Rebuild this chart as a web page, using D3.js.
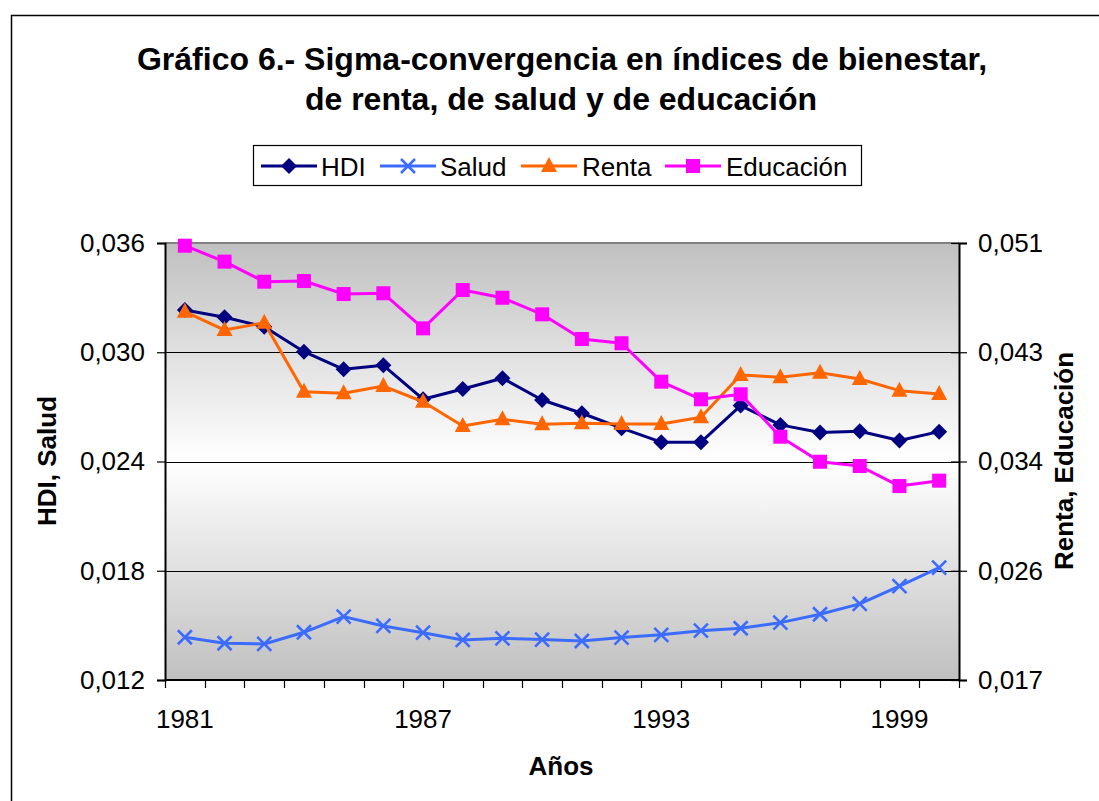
<!DOCTYPE html>
<html>
<head>
<meta charset="utf-8">
<script src="https://cdn.jsdelivr.net/npm/d3@7"></script>
<style>
  html, body { margin: 0; padding: 0; background: #ffffff; overflow: hidden; }
  svg { display: block; }
  text { font-family: "Liberation Sans", Arial, sans-serif; }
</style>
</head>
<body>
<svg id="chart" width="1099" height="801"></svg>
<script>
// ---------- data ----------
const years = [1981,1982,1983,1984,1985,1986,1987,1988,1989,1990,1991,1992,1993,1994,1995,1996,1997,1998,1999,2000];
const hdi = [0.03232,0.03192,0.03140,0.03003,0.02906,0.02928,0.02742,0.02798,0.02857,0.02738,0.02665,0.02583,0.02506,0.02506,0.02707,0.02601,0.02559,0.02566,0.02515,0.02564];
const salud = [0.01435,0.01402,0.01398,0.01462,0.01548,0.01497,0.01460,0.01420,0.01429,0.01422,0.01414,0.01433,0.01448,0.01471,0.01484,0.01515,0.01561,0.01618,0.01716,0.01817];
const renta = [0.04566,0.04423,0.04480,0.03943,0.03931,0.03987,0.03865,0.03676,0.03728,0.03689,0.03697,0.03692,0.03692,0.03744,0.04073,0.04055,0.04091,0.04042,0.03951,0.03925];
const educacion = [0.05079,0.04955,0.04799,0.04804,0.04703,0.04709,0.04436,0.04734,0.04674,0.04545,0.04353,0.04320,0.04021,0.03884,0.03923,0.03593,0.03398,0.03365,0.03209,0.03251];

const leftTicks = [0.012,0.018,0.024,0.030,0.036];
const leftTickLabels = ["0,012","0,018","0,024","0,030","0,036"];
const rightTicks = [0.017,0.0255,0.034,0.0425,0.051];
const rightTickLabels = ["0,017","0,026","0,034","0,043","0,051"];
const xTickLabelYears = [1981,1987,1993,1999];

const seriesNames = ["HDI","Salud","Renta","Educación"];
const titleLines = ["Gráfico 6.- Sigma-convergencia en índices de bienestar,","de renta, de salud y de educación"];

// ---------- layout ----------
const svg = d3.select("#chart");
const plot = {left:165, right:959, top:243, bottom:680};
const tickFont = 26;

const x = d3.scaleBand().domain(years).range([plot.left, plot.right]).padding(0);
const cx = d => x(d) + x.bandwidth()/2;
const yL = d3.scaleLinear().domain([0.012,0.036]).range([plot.bottom, plot.top]);
const yR = d3.scaleLinear().domain([0.017,0.051]).range([plot.bottom, plot.top]);

// chart border
svg.append("rect").attr("x",11.5).attr("y",15.5).attr("width",1200).attr("height",900)
  .attr("fill","#fff").attr("stroke","#000").attr("stroke-width",1.5);

// title
svg.append("text").attr("x",562).attr("y",70).attr("text-anchor","middle")
  .attr("font-size",32).attr("font-weight","bold").text(titleLines[0]);
svg.append("text").attr("x",561).attr("y",110).attr("text-anchor","middle")
  .attr("font-size",32).attr("font-weight","bold").text(titleLines[1]);

// gradient background
const defs = svg.append("defs");
const grad = defs.append("linearGradient").attr("id","bg").attr("x1",0).attr("y1",0).attr("x2",0).attr("y2",1);
grad.append("stop").attr("offset","0%").attr("stop-color","#c0c0c0");
grad.append("stop").attr("offset","50%").attr("stop-color","#ffffff");
grad.append("stop").attr("offset","100%").attr("stop-color","#c0c0c0");
svg.append("rect").attr("x",plot.left).attr("y",plot.top)
  .attr("width",plot.right-plot.left).attr("height",plot.bottom-plot.top).attr("fill","url(#bg)");

// gridlines
svg.append("g").selectAll("line").data(leftTicks.slice(1,4)).join("line")
  .attr("x1",plot.left).attr("x2",plot.right)
  .attr("y1",d=>Math.round(yL(d))+0.5).attr("y2",d=>Math.round(yL(d))+0.5)
  .attr("stroke","#000").attr("stroke-width",1);
svg.append("line").attr("x1",plot.left).attr("x2",plot.right)
  .attr("y1",yL(0.036)).attr("y2",yL(0.036)).attr("stroke","#808080").attr("stroke-width",2);

// left axis
const axL = svg.append("g").attr("transform",`translate(${plot.left},0)`)
  .call(d3.axisLeft(yL).tickValues(leftTicks).tickSize(8).tickPadding(12)
    .tickFormat((d,i)=>leftTickLabels[i]));
axL.select(".domain").attr("stroke","#000").attr("stroke-width",2);
axL.selectAll(".tick line").attr("stroke","#000").attr("stroke-width",1.2);
axL.selectAll(".tick text").attr("font-size",tickFont).attr("fill","#000")
  .attr("font-family","'Liberation Sans', Arial, sans-serif");

// right axis
const axR = svg.append("g").attr("transform",`translate(${plot.right},0)`)
  .call(d3.axisRight(yR).tickValues(rightTicks).tickSize(8).tickPadding(11)
    .tickFormat((d,i)=>rightTickLabels[i]));
axR.select(".domain").attr("stroke","#000").attr("stroke-width",2);
axR.selectAll(".tick line").attr("x1",-8).attr("stroke","#000").attr("stroke-width",1.2);
axR.selectAll(".tick text").attr("font-size",tickFont).attr("fill","#000")
  .attr("font-family","'Liberation Sans', Arial, sans-serif");

// bottom axis (category boundaries as ticks)
const boundaries = years.map(d => x(d)).concat([x(years[years.length-1]) + x.bandwidth()]);
svg.append("line").attr("x1",plot.left).attr("x2",plot.right).attr("y1",plot.bottom).attr("y2",plot.bottom)
  .attr("stroke","#000").attr("stroke-width",2);
svg.append("g").selectAll("line").data(boundaries).join("line")
  .attr("x1",d=>Math.round(d)+0.5).attr("x2",d=>Math.round(d)+0.5)
  .attr("y1",plot.bottom).attr("y2",plot.bottom+8).attr("stroke","#000").attr("stroke-width",1.2);
svg.append("g").selectAll("text").data(xTickLabelYears).join("text")
  .attr("x",d=>cx(d)).attr("y",plot.bottom+48).attr("text-anchor","middle")
  .attr("font-size",tickFont).text(d=>d);

// axis titles
svg.append("text").attr("x",561).attr("y",775).attr("text-anchor","middle")
  .attr("font-size",26).attr("font-weight","bold").text("Años");
svg.append("text").attr("transform","translate(56,461) rotate(-90)").attr("text-anchor","middle")
  .attr("font-size",26).attr("font-weight","bold").text("HDI, Salud");
svg.append("text").attr("transform","translate(1073,461) rotate(-90)").attr("text-anchor","middle")
  .attr("font-size",26).attr("font-weight","bold").text("Renta, Educación");

// ---------- series ----------
const series = [
  {name:seriesNames[0], values:hdi, y:yL, color:"#000080", marker:"diamond"},
  {name:seriesNames[1], values:salud, y:yL, color:"#3c6cff", marker:"x"},
  {name:seriesNames[2], values:renta, y:yR, color:"#ff6600", marker:"triangle"},
  {name:seriesNames[3], values:educacion, y:yR, color:"#ff00ff", marker:"square"}
];

function drawMarker(g, type, color) {
  if (type === "diamond") {
    g.append("path").attr("d","M0,-8L8,0L0,8L-8,0Z").attr("fill",color);
  } else if (type === "square") {
    g.append("rect").attr("x",-7).attr("y",-7).attr("width",14).attr("height",14).attr("fill",color);
  } else if (type === "triangle") {
    g.append("path").attr("d","M0,-9L8,6L-8,6Z").attr("fill",color);
  } else if (type === "x") {
    g.append("path").attr("d","M-7,-7L7,7M-7,7L7,-7").attr("stroke",color).attr("stroke-width",2.6).attr("fill","none");
  }
}

series.forEach(s => {
  const line = d3.line().x((d,i)=>cx(years[i])).y(d=>s.y(d));
  svg.append("path").datum(s.values).attr("d",line).attr("fill","none")
    .attr("stroke",s.color).attr("stroke-width",3).attr("stroke-linejoin","round");
  const mg = svg.append("g");
  s.values.forEach((v,i) => {
    const g = mg.append("g").attr("transform",`translate(${cx(years[i])},${s.y(v)})`);
    drawMarker(g, s.marker, s.color);
  });
});

// ---------- legend ----------
const legend = svg.append("g");
legend.append("rect").attr("x",253.5).attr("y",145.5).attr("width",608).attr("height",40)
  .attr("fill","#fff").attr("stroke","#000").attr("stroke-width",1.2);
const legendItems = [
  {lx:261, tx:321},
  {lx:380, tx:440},
  {lx:521, tx:582},
  {lx:665, tx:726}
];
series.forEach((s,i) => {
  const it = legendItems[i];
  const ly = 166;
  legend.append("line").attr("x1",it.lx).attr("x2",it.lx+56).attr("y1",ly).attr("y2",ly)
    .attr("stroke",s.color).attr("stroke-width",3);
  const g = legend.append("g").attr("transform",`translate(${it.lx+28},${ly})`);
  drawMarker(g, s.marker, s.color);
  legend.append("text").attr("x",it.tx).attr("y",ly+9.5).attr("font-size",26).text(s.name);
});
</script>
</body>
</html>
